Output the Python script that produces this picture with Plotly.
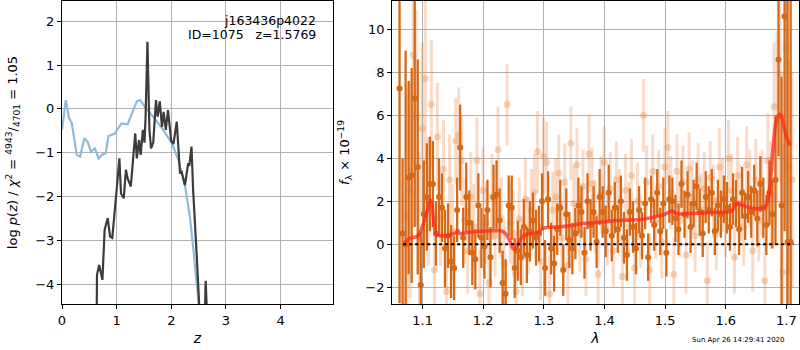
import plotly.graph_objects as go

# ---------------- data ----------------
# left panel: redshift probability curves
z_prior = [0.0, 0.07, 0.13, 0.18, 0.27, 0.33, 0.41, 0.47, 0.53, 0.60, 0.67, 0.73, 0.80, 0.85,
           0.96, 1.03, 1.09, 1.20, 1.28, 1.37, 1.43, 1.52, 1.67, 1.83, 2.01, 2.13, 2.25, 2.34,
           2.40, 2.46, 2.51, 2.56]
logp_prior = [-0.48, 0.20, -0.21, -0.33, -1.05, -1.09, -0.67, -0.75, -0.98, -0.90, -1.13, -1.05,
              -1.01, -0.62, -0.57, -0.44, -0.33, -0.35, -0.10, 0.17, 0.20, 0.04, -0.18, -0.44,
              -0.78, -1.16, -1.74, -2.46, -3.14, -3.83, -4.45, -5.2]

z_pz = [0.60, 0.636, 0.64, 0.68, 0.74, 0.78, 0.837, 0.88, 0.92, 0.97, 1.00, 1.05, 1.08, 1.13,
        1.17, 1.20, 1.26, 1.31, 1.34, 1.37, 1.41, 1.44, 1.48, 1.51, 1.53, 1.564, 1.60, 1.63,
        1.67, 1.72, 1.75, 1.79, 1.83, 1.86, 1.90, 1.94, 1.98, 2.00, 2.04, 2.10, 2.16, 2.19,
        2.25, 2.31, 2.33, 2.37, 2.40, 2.43, 2.47, 2.51, 2.55, 2.59, 2.61, 2.63, 2.66, 2.70]
logp_pz = [-6.0, -4.6, -3.79, -3.56, -3.90, -2.76, -2.49, -2.91, -2.94, -2.15, -1.85, -1.13,
           -1.93, -2.04, -1.39, -1.58, -1.77, -1.01, -0.56, -1.13, -0.71, -1.05, -0.48, -0.77,
           -0.18, 1.53, -0.48, -0.90, -0.77, 0.20, -0.18, 0.17, -0.41, -0.07, -0.48, -0.03,
           -0.48, -0.74, -0.80, -0.29, -1.47, -1.44, -1.74, -1.24, -1.30, -0.86, -1.85, -2.46,
           -3.44, -4.45, -5.6, -6.0, -4.9, -3.92, -4.9, -6.5]

# right panel: spectrum (dark = primary grism, light = secondary)
wave_a = [1.062, 1.067, 1.072, 1.077, 1.082, 1.087, 1.092, 1.097, 1.102, 1.107,
          1.112, 1.117, 1.122, 1.127, 1.132, 1.137, 1.142, 1.147, 1.152, 1.157,
          1.162, 1.167, 1.172, 1.177, 1.182, 1.187, 1.192, 1.197, 1.202, 1.207,
          1.212, 1.217, 1.222, 1.227, 1.232, 1.237, 1.242, 1.247, 1.252, 1.257,
          1.262, 1.267, 1.272, 1.277, 1.282, 1.287, 1.292, 1.297, 1.302, 1.307,
          1.312, 1.317, 1.322, 1.327, 1.332, 1.337, 1.342, 1.347, 1.352, 1.357,
          1.362, 1.367, 1.372, 1.377, 1.382, 1.387, 1.392, 1.397, 1.402, 1.407,
          1.412, 1.417, 1.422, 1.427, 1.432, 1.437, 1.442, 1.447, 1.452, 1.457,
          1.462, 1.467, 1.472, 1.477, 1.482, 1.487, 1.492, 1.497, 1.502, 1.507,
          1.512, 1.517, 1.522, 1.527, 1.532, 1.537, 1.542, 1.547, 1.552, 1.557,
          1.562, 1.567, 1.572, 1.577, 1.582, 1.587, 1.592, 1.597, 1.602, 1.607,
          1.612, 1.617, 1.622, 1.627, 1.632, 1.637, 1.642, 1.647, 1.652, 1.657,
          1.662, 1.667, 1.672, 1.677, 1.682, 1.687, 1.692, 1.697, 1.702, 1.707]
flux_a = [7.25, 0.5, 0.0, 3.1, 3.2, 6.8, 3.6, -1.9, 1.4, 2.2,
          2.8, 2.8, 0.5, 2.2, 1.7, -0.2, 0.4, -0.8, -1.1, 1.6,
          4.5, 0.3, 2.2, 1.0, -0.4, -0.7, 1.8, 0.3, -0.1, 1.6,
          -0.6, 2.2, 2.3, 1.1, -1.8, -2.3, 1.8, 1.7, -1.1, -0.3,
          -0.6, 0.8, -0.5, 0.6, 1.1, 0.3, 0.5, 2.0, -1.1, 2.1,
          -0.2, -0.9, 0.7, 1.7, -1.2, 1.4, 0.2, -0.2, 0.5, 1.8,
          1.5, -0.4, 2.0, 0.9, 1.5, 0.1, 2.2, 1.5, 0.6, 2.4,
          0.4, 1.7, 0.7, 2.0, 0.3, -0.5, 1.5, 0.8, -0.2, 1.6,
          0.4, 1.9, -0.6, 2.1, 0.9, 2.4, 0.6, 1.9, -0.4, 2.1,
          2.0, 1.2, 0.7, 2.8, 1.4, 2.3, 0.8, 1.9, 2.7, 1.5,
          0.5, 2.2, 1.6, 2.4, 0.6, 1.8, 1.4, 2.1, 1.7, 0.8,
          2.1, 1.9, 0.7, 2.4, 1.3, 2.2, 1.5, 2.5, 1.2, 2.8,
          1.7, 0.9, 2.4, 1.4, 3.0, 8.6, 1.8, 10.6, 0.1, 0.1]
err_a = [10.0, 3.5, 9.0, 4.5, 5.0, 6.0, 5.0, 2.5, 2.5, 2.5,
         2.2, 2.0, 1.5, 1.8, 1.6, 1.8, 1.5, 1.7, 1.5, 1.5,
         2.0, 1.4, 1.6, 1.5, 1.5, 1.4, 1.5, 1.4, 1.5, 1.4,
         1.4, 1.5, 1.6, 1.5, 1.5, 1.6, 1.4, 1.5, 1.4, 1.4,
         1.3, 1.3, 1.3, 1.4, 1.3, 1.3, 1.3, 1.3, 1.3, 1.3,
         1.2, 1.3, 1.2, 1.3, 1.2, 1.2, 1.3, 1.2, 1.2, 1.3,
         1.2, 1.2, 1.3, 1.2, 1.2, 1.2, 1.3, 1.2, 1.2, 1.3,
         1.2, 1.2, 1.1, 1.2, 1.2, 1.2, 1.1, 1.2, 1.2, 1.1,
         1.1, 1.2, 1.1, 1.1, 1.2, 1.1, 1.1, 1.2, 1.1, 1.1,
         1.1, 1.1, 1.2, 1.1, 1.1, 1.1, 1.2, 1.1, 1.1, 1.1,
         1.1, 1.2, 1.1, 1.1, 1.1, 1.2, 1.1, 1.1, 1.2, 1.1,
         1.2, 1.1, 1.2, 1.2, 1.1, 1.2, 1.2, 1.2, 1.3, 1.3,
         1.4, 1.4, 1.5, 1.6, 3.0, 4.5, 6.0, 10.0, 12.0, 12.0]

wave_b = [1.0745, 1.0795, 1.0845, 1.0895, 1.0945, 1.0995, 1.1045, 1.1095, 1.1145, 1.1195,
          1.1245, 1.1295, 1.1345, 1.1395, 1.1445, 1.1495, 1.1545, 1.1595, 1.1645, 1.1695,
          1.1745, 1.1795, 1.1845, 1.1895, 1.1945, 1.1995, 1.2045, 1.2095, 1.2145, 1.2195,
          1.2245, 1.2295, 1.2345, 1.2395, 1.2445, 1.2495, 1.2545, 1.2595, 1.2645, 1.2695,
          1.2745, 1.2795, 1.2845, 1.2895, 1.2945, 1.2995, 1.3045, 1.3095, 1.3145, 1.3195,
          1.3245, 1.3295, 1.3345, 1.3395, 1.3445, 1.3495, 1.3545, 1.3595, 1.3645, 1.3695,
          1.3745, 1.3795, 1.3845, 1.3895, 1.3945, 1.3995, 1.4045, 1.4095, 1.4145, 1.4195,
          1.4245, 1.4295, 1.4345, 1.4395, 1.4445, 1.4495, 1.4545, 1.4595, 1.4645, 1.4695,
          1.4745, 1.4795, 1.4845, 1.4895, 1.4945, 1.4995, 1.5045, 1.5095, 1.5145, 1.5195,
          1.5245, 1.5295, 1.5345, 1.5395, 1.5445, 1.5495, 1.5545, 1.5595, 1.5645, 1.5695,
          1.5745, 1.5795, 1.5845, 1.5895, 1.5945, 1.5995, 1.6045, 1.6095, 1.6145, 1.6195,
          1.6245, 1.6295, 1.6345, 1.6395, 1.6445, 1.6495, 1.6545, 1.6595, 1.6645, 1.6695,
          1.6745, 1.6795, 1.6845, 1.6895, 1.6945, 1.6995, 1.7045, 1.7095]
flux_b = [1.3, 2.5, 8.8, 5.9, 0.3, 5.4, 7.7, 2.0, 6.5, -1.2,
          5.0, 1.2, 3.5, -2.2, 3.0, 0.6, 4.8, 5.1, 3.9, 1.1,
          -0.3, 2.2, 0.8, 3.9, -2.3, 2.5, 1.0, -1.8, 2.2, 0.4,
          4.4, 1.2, -0.9, 6.5, 1.0, 0.5, -2.2, 1.2, -0.6, 2.1,
          0.4, 1.6, 2.4, 4.3, -0.8, 4.1, 3.8, -2.3, 1.6, 2.2,
          3.3, 0.3, 2.9, -1.0, 4.7, 1.9, 3.7, 0.5, 2.7, -0.7,
          4.2, 2.8, 1.3, -1.4, 2.3, 3.8, 0.7, 2.6, -0.3, 3.0,
          1.8, -1.5, 2.5, 1.2, 3.2, -1.1, 2.0, 0.6, 6.0, 2.9,
          -1.2, 3.4, 1.0, 2.7, 0.1, 3.6, 4.5, 2.4, -1.4, 3.4,
          1.1, 2.9, -0.5, 3.5, 2.2, 0.4, 3.0, 1.6, 2.6, -1.7,
          3.1, 2.0, 0.5, 3.6, 2.3, 1.1, 4.0, 2.5, -0.6, 3.2,
          1.9, 0.8, 3.7, 2.6, -0.3, 3.0, 1.1, 2.4, -1.7, 3.9,
          2.3, 6.4, 5.9, 7.9, -1.3, 9.1, 3.6, 3.0]
err_b = [6.0, 5.0, 5.0, 5.0, 4.0, 4.0, 4.0, 3.0, 3.0, 2.5,
         2.5, 2.2, 2.3, 2.2, 2.1, 2.2, 2.0, 2.2, 2.1, 2.0,
         2.0, 2.1, 2.0, 2.0, 2.1, 2.0, 1.9, 2.0, 2.0, 1.9,
         2.0, 1.9, 2.0, 1.9, 1.9, 2.0, 1.9, 1.9, 1.8, 1.9,
         1.8, 1.9, 1.8, 1.9, 1.8, 1.8, 1.9, 1.8, 1.8, 1.8,
         1.8, 1.7, 1.8, 1.8, 1.7, 1.8, 1.7, 1.8, 1.7, 1.7,
         1.8, 1.7, 1.7, 1.7, 1.8, 1.7, 1.7, 1.7, 1.7, 1.8,
         1.7, 1.7, 1.7, 1.7, 1.7, 1.7, 1.8, 1.7, 1.7, 1.7,
         1.7, 1.7, 1.7, 1.7, 1.7, 1.8, 1.7, 1.7, 1.7, 1.7,
         1.7, 1.7, 1.8, 1.7, 1.7, 1.7, 1.7, 1.7, 1.7, 1.8,
         1.7, 1.7, 1.7, 1.8, 1.7, 1.7, 1.8, 1.7, 1.7, 1.8,
         1.8, 1.8, 1.8, 1.8, 1.9, 1.9, 1.9, 2.0, 2.0, 2.2,
         2.5, 3.0, 4.0, 5.0, 6.0, 6.0, 5.0, 5.0]

wave_model = [1.070, 1.080, 1.090, 1.095, 1.100, 1.105, 1.110, 1.113, 1.116, 1.119, 1.122,
              1.126, 1.135, 1.145, 1.150, 1.155, 1.158, 1.161, 1.165, 1.175, 1.190, 1.210,
              1.225, 1.232, 1.238, 1.244, 1.249, 1.252, 1.256, 1.262, 1.270, 1.280, 1.290,
              1.295, 1.300, 1.320, 1.340, 1.360, 1.380, 1.400, 1.420, 1.440, 1.460, 1.480,
              1.500, 1.510, 1.515, 1.520, 1.540, 1.560, 1.580, 1.600, 1.610, 1.618, 1.625,
              1.640, 1.655, 1.665, 1.672, 1.678, 1.684, 1.690, 1.695, 1.700, 1.706]
flux_model = [0.10, 0.30, 0.35, 0.50, 0.85, 1.30, 1.80, 2.05, 1.70, 0.90, 0.50,
              0.40, 0.40, 0.42, 0.50, 0.52, 0.65, 0.50, 0.50, 0.55, 0.60, 0.62,
              0.63, 0.60, 0.45, 0.15, -0.20, -0.25, -0.05, 0.25, 0.45, 0.50, 0.55,
              0.65, 0.75, 0.80, 0.85, 0.95, 1.00, 1.05, 1.10, 1.12, 1.15, 1.25,
              1.40, 1.55, 1.50, 1.42, 1.43, 1.45, 1.48, 1.50, 1.55, 1.90, 1.85,
              1.70, 1.65, 1.75, 2.50, 4.50, 5.80, 6.05, 5.60, 5.00, 4.60]

zero_level = 0.0
zero_span = [1.068, 1.712]

title_lines = ["j163436p4022", "ID=1075   z=1.5769"]
timestamp = "Sun Apr 26 14:29:41 2020"

# ---------------- figure ----------------
FONT = "DejaVu Sans"
DARK = "rgb(214,104,22)"
LIGHT_BAR = "rgba(232,140,75,0.30)"
LIGHT_PT = "rgba(232,140,75,0.36)"

fig = go.Figure()

fig.add_trace(go.Scatter(x=z_prior, y=logp_prior, mode="lines",
                         line=dict(color="rgb(143,187,217)", width=2.2),
                         xaxis="x", yaxis="y", showlegend=False))
fig.add_trace(go.Scatter(x=z_pz, y=logp_pz, mode="lines",
                         line=dict(color="rgb(60,60,60)", width=2.2),
                         xaxis="x", yaxis="y", showlegend=False))

fig.add_trace(go.Scatter(x=wave_b, y=flux_b, mode="markers",
                         marker=dict(color=LIGHT_PT, size=7, line=dict(width=0)),
                         error_y=dict(type="data", array=err_b, color=LIGHT_BAR,
                                      thickness=3, width=0),
                         xaxis="x2", yaxis="y2", showlegend=False))
fig.add_trace(go.Scatter(x=wave_a, y=flux_a, mode="markers",
                         marker=dict(color=DARK, size=6, line=dict(width=0)),
                         error_y=dict(type="data", array=err_a, color=DARK,
                                      thickness=2.3, width=0),
                         xaxis="x2", yaxis="y2", showlegend=False))
fig.add_trace(go.Scatter(x=wave_model, y=flux_model, mode="lines",
                         line=dict(color="rgba(255,40,30,0.75)", width=3.5, shape="spline"),
                         xaxis="x2", yaxis="y2", showlegend=False))
fig.add_trace(go.Scatter(x=zero_span, y=[zero_level, zero_level], mode="lines",
                         line=dict(color="black", width=2, dash="dot"),
                         xaxis="x2", yaxis="y2", showlegend=False))

axis_common = dict(showline=True, mirror=True, linecolor="black", linewidth=1,
                   ticks="outside", ticklen=4, tickcolor="black", automargin=False,
                   showgrid=True, gridcolor="#b0b0b0", gridwidth=1, zeroline=False,
                   tickfont=dict(family=FONT, size=13, color="black"))

fig.update_layout(
    width=800, height=350,
    margin=dict(l=62, r=1, t=1, b=46, autoexpand=False),
    paper_bgcolor="white", plot_bgcolor="white",
    font=dict(family=FONT, size=13, color="black"),
    xaxis=dict(domain=[0, 0.3677], range=[0, 4.96], dtick=1, tick0=0, anchor="y",
               title=dict(text="<i>z</i>", standoff=6, font=dict(size=14)), **axis_common),
    yaxis=dict(domain=[0, 1], range=[-4.45, 2.46], dtick=1, tick0=0, anchor="x",
               title=dict(text="log <i>p</i>(<i>z</i>) / <i>χ</i><sup>2</sup> = "
                               "<sup>4943</sup>/<sub>4701</sub> = 1.05",
                          standoff=14, font=dict(size=13)), **axis_common),
    xaxis2=dict(domain=[0.4478, 1.0], range=[1.0496, 1.7208], dtick=0.1, tick0=1.1,
                tickformat=".1f", anchor="y2",
                title=dict(text="<i>λ</i>", standoff=6, font=dict(size=14)), **axis_common),
    yaxis2=dict(domain=[0, 1], range=[-2.78, 11.32], dtick=2, tick0=0, anchor="x2",
                title=dict(text="<i>f</i><sub>λ</sub> × 10<sup>−19</sup>",
                           standoff=12, font=dict(size=13)), **axis_common),
)

fig.add_annotation(x=4.69, y=0.935, xref="x", yref="paper", text=title_lines[0],
                   showarrow=False, xanchor="right", yanchor="middle",
                   font=dict(family=FONT, size=12.5, color="black"))
fig.add_annotation(x=4.69, y=0.890, xref="x", yref="paper", text=title_lines[1],
                   showarrow=False, xanchor="right", yanchor="middle",
                   font=dict(family=FONT, size=12.5, color="black"))
fig.add_annotation(x=0.9837, y=-0.119, xref="paper", yref="paper", text=timestamp,
                   showarrow=False, xanchor="right", yanchor="middle",
                   font=dict(family=FONT, size=7, color="black"))

fig.write_html("out.html", config={"displayModeBar": False},
               post_script="document.body.style.margin='0';")
